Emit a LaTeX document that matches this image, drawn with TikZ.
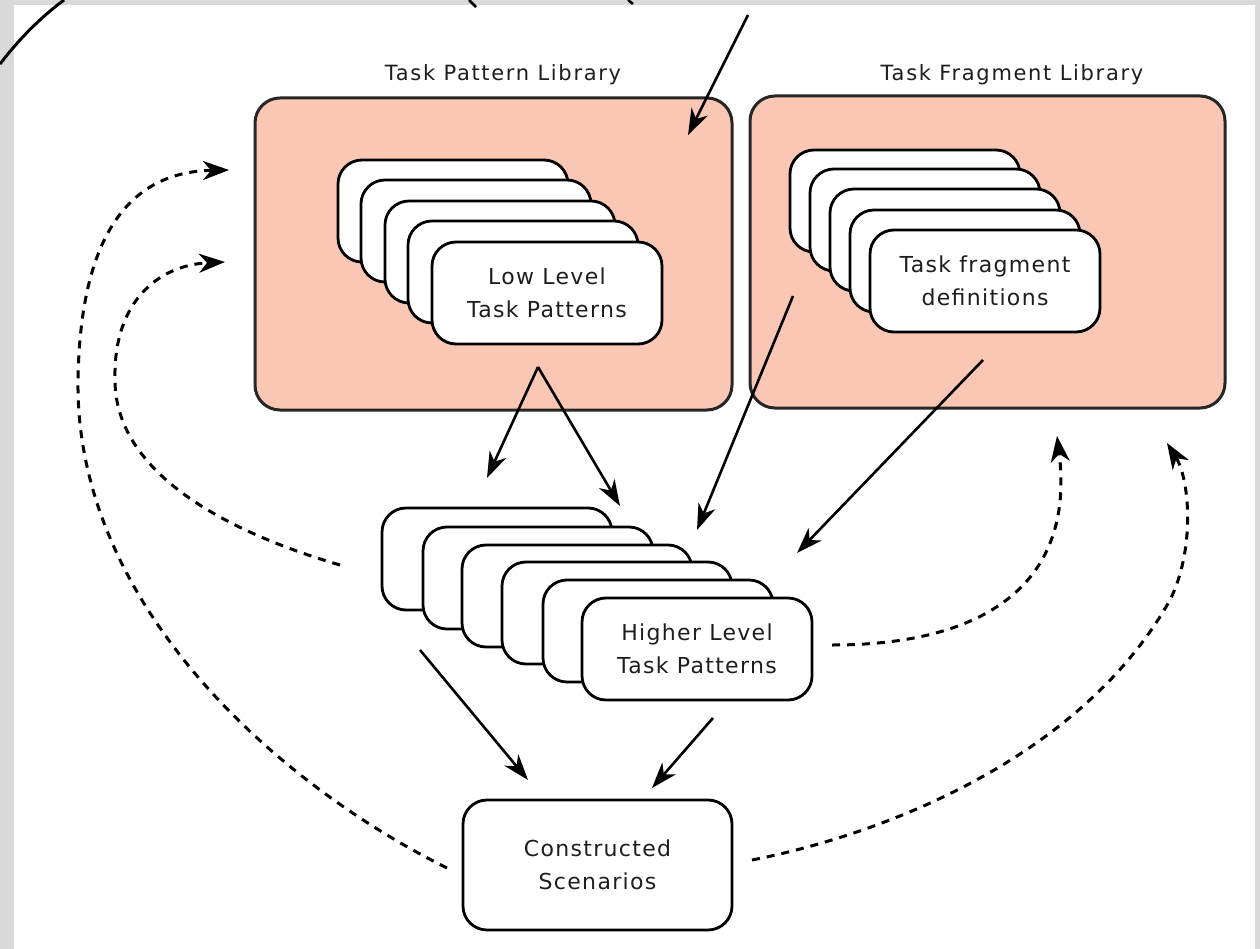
\documentclass[tikz,border=0pt]{standalone}
\usepackage{fontspec}
\setmainfont{DejaVu Sans}
\newfontfamily\boxfont[LetterSpace=6]{DejaVu Sans}
\newfontfamily\lblfont[LetterSpace=8]{DejaVu Sans}
\usetikzlibrary{arrows.meta}
\definecolor{libfill}{RGB}{249,199,179}
\definecolor{framegray}{RGB}{217,217,217}
\definecolor{txt}{RGB}{30,30,30}
\begin{document}
\begin{tikzpicture}[x=1pt,y=-1pt,
  lib/.style={rectangle, rounded corners=25pt, draw=black!85, fill=libfill, line width=3pt, inner sep=0pt},
  card/.style={rectangle, rounded corners=24pt, draw=black, fill=white, line width=2.8pt, inner sep=0pt,
     minimum width=230pt, minimum height=102pt, align=center, text=txt,
     font=\boxfont\fontsize{22}{33}\selectfont},
  lbl/.style={text=txt, font=\lblfont\fontsize{21}{24}\selectfont, inner sep=0pt},
  arr/.style={line width=2.6pt, -{Stealth[length=26pt,width=18pt,inset=8pt]}},
  darr/.style={line width=3pt, dash pattern=on 8pt off 7pt, -{Stealth[length=26pt,width=19pt,inset=8pt]}}
]
\useasboundingbox (0,0) rectangle (1260,949);
\fill[framegray] (0,0) rectangle (1260,949);
\fill[white] (14,5) rectangle (1255,949);

% fragments at the top edge
\draw[line width=3pt] (0,64) .. controls (20,38) and (40,18) .. (64,0);
\draw[line width=2.5pt] (469,0) -- (476,7);
\draw[line width=2.5pt] (628,0) -- (633,4);

% libraries
\node[lib, minimum width=477pt, minimum height=312pt] (tpl) at (493.5,254) {};
\node[lib, minimum width=475pt, minimum height=312pt] (tfl) at (987.5,252) {};
\node[lbl] (tpllbl) at (503,75) {Task Pattern Library};
\node[lbl] (tfllbl) at (1012,75) {Task Fragment Library};

% low level task patterns stack
\node[card] (lp1) at (453,211) {};
\node[card] (lp2) at (476,231) {};
\node[card] (lp3) at (500,252) {};
\node[card] (lp4) at (523,272) {};
\node[card] (lp5) at (547,293) {Low Level\\Task Patterns};

% task fragment stack
\node[card] (tf1) at (905,201) {};
\node[card] (tf2) at (925,220) {};
\node[card] (tf3) at (945,240) {};
\node[card] (tf4) at (965,261) {};
\node[card] (tf5) at (985,281) {Task fragment\\definitions};

% higher level stack
\node[card] (hp1) at (497,559) {};
\node[card] (hp2) at (538,578) {};
\node[card] (hp3) at (577,596) {};
\node[card] (hp4) at (617,613) {};
\node[card] (hp5) at (658,631) {};
\node[card] (hp6) at (697,649) {Higher Level\\Task Patterns};

% constructed scenarios
\node[card, minimum width=269pt, minimum height=130pt] (cs) at (597.5,865) {Constructed\\Scenarios};

% connector end points
\coordinate (inS) at (748,15);
\coordinate (inE) at (688,135);
\coordinate (apex) at (538,367);
\coordinate (hpInL) at (487,478);
\coordinate (hpInR) at (620,506);
\coordinate (tfOut1) at (793,296);
\coordinate (hpIn3) at (697,530);
\coordinate (tfOut2) at (983,360);
\coordinate (hpIn4) at (797,553);
\coordinate (hpOutL) at (420,650);
\coordinate (csInL) at (528,780);
\coordinate (hpOutR) at (713,718);
\coordinate (csInR) at (652,788);

\draw[arr] (inS) -- (inE);
\draw[arr] (apex) -- (hpInL);
\draw[arr] (apex) -- (hpInR);
\draw[arr] (tfOut1) -- (hpIn3);
\draw[arr] (tfOut2) -- (hpIn4);
\draw[arr] (hpOutL) -- (csInL);
\draw[arr] (hpOutR) -- (csInR);

% dashed feedback
\coordinate (csL) at (447,868);
\coordinate (tplIn1) at (229,170);
\coordinate (hpL) at (340,565);
\coordinate (tplIn2) at (225,262);
\coordinate (hpR) at (832,645);
\coordinate (tflIn1) at (1057,436);
\coordinate (csR) at (752,860);
\coordinate (tflIn2) at (1167,443);

\draw[darr] (csL) .. controls (270,780) and (75,600) .. (78,380)
   .. controls (80,250) and (120,172) .. (tplIn1);
\draw[darr] (hpL) .. controls (220,530) and (115,470) .. (115,380)
   .. controls (113,300) and (160,265) .. (tplIn2);
\draw[darr] (hpR) .. controls (990,645) and (1075,580) .. (tflIn1);
\draw[darr] (csR) .. controls (880,835) and (1080,760) .. (1170,600)
   .. controls (1195,550) and (1190,480) .. (tflIn2);
\end{tikzpicture}
\end{document}
